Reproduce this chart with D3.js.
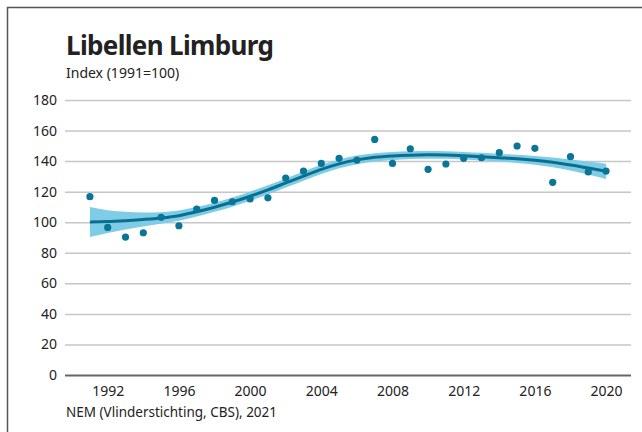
<!DOCTYPE html>
<html>
<head>
<meta charset="utf-8">
<script src="https://cdn.jsdelivr.net/npm/d3@7"></script>
<style>
  body { margin: 0; background: #fff; }
  text { font-family: "Noto Sans", "Open Sans", sans-serif; fill: #222; }
</style>
</head>
<body>
<div id="chart"></div>
<script>
// data
var years = [1991, 1992, 1993, 1994, 1995, 1996, 1997, 1998, 1999, 2000,
             2001, 2002, 2003, 2004, 2005, 2006, 2007, 2008, 2009, 2010,
             2011, 2012, 2013, 2014, 2015, 2016, 2017, 2018, 2019, 2020];
var index = [116.7, 96.6, 90.3, 93.1, 103.2, 97.7, 108.6, 114.3, 113.4, 115.2,
             116.0, 128.9, 133.5, 138.5, 141.8, 140.7, 154.2, 138.5, 148.1, 134.6,
             138.1, 141.8, 142.2, 145.5, 149.9, 148.4, 126.1, 142.9, 132.9, 133.5];
var trend = [100.2, 100.4, 101.0, 101.8, 102.8, 104.3, 106.8, 109.8, 113.2, 117.0,
             121.2, 125.7, 130.2, 134.6, 138.2, 140.8, 142.5, 143.4, 143.9, 144.1,
             144.0, 143.5, 142.9, 142.2, 141.5, 140.5, 139.2, 137.5, 135.5, 133.3];
var halfBand = [9.8, 7.5, 5.8, 4.6, 3.8, 3.4, 3.1, 3.0, 3.0, 3.0,
                3.0, 3.0, 3.0, 3.0, 2.9, 2.8, 2.7, 2.6, 2.5, 2.5,
                2.5, 2.5, 2.5, 2.5, 2.7, 2.9, 3.2, 3.6, 4.2, 5.0];
var yTicks = [0, 20, 40, 60, 80, 100, 120, 140, 160, 180];
var xTicks = [1992, 1996, 2000, 2004, 2008, 2012, 2016, 2020];

var width = 642, height = 432;
var margin = {left: 65, right: 11, top: 100, bottom: 57};

var svg = d3.select("#chart").append("svg")
    .attr("width", width)
    .attr("height", height);

// frame (top and left edge visible)
svg.append("path")
    .attr("d", "M7.5,432V7.5H642")
    .attr("fill", "none")
    .attr("stroke", "#555")
    .attr("stroke-width", 1.5);

var x = d3.scaleLinear()
    .domain([1989.6, 2021.4])
    .range([margin.left, width - margin.right]);

var y = d3.scaleLinear()
    .domain([0, 180])
    .range([height - margin.bottom, margin.top]);

// title and subtitle
svg.append("text")
    .attr("x", 66).attr("y", 55)
    .attr("font-size", 26).attr("font-weight", "bold")
    .attr("fill", "#111")
    .attr("textLength", 208)
    .text("Libellen Limburg");

svg.append("text")
    .attr("x", 66).attr("y", 78)
    .attr("font-size", 14)
    .text("Index (1991=100)");

// gridlines + y labels
var yAxis = svg.append("g")
    .attr("transform", "translate(" + margin.left + ",0)")
    .call(d3.axisLeft(y).tickValues(yTicks)
        .tickSize(-(width - margin.left - margin.right))
        .tickPadding(8));
yAxis.select(".domain").remove();
yAxis.selectAll(".tick line")
    .attr("stroke", function(d) { return d === 0 ? "#666" : "#c6c6c6"; })
    .attr("stroke-width", function(d) { return d === 0 ? 2 : 1.5; });
yAxis.selectAll(".tick text")
    .attr("font-size", 14)
    .attr("font-family", "Noto Sans, sans-serif")
    .attr("fill", "#222");

// x labels
var xAxis = svg.append("g")
    .attr("transform", "translate(0," + (height - margin.bottom) + ")")
    .call(d3.axisBottom(x).tickValues(xTicks).tickFormat(d3.format("d"))
        .tickSize(0).tickPadding(11));
xAxis.select(".domain").remove();
xAxis.selectAll(".tick text")
    .attr("font-size", 14)
    .attr("font-family", "Noto Sans, sans-serif")
    .attr("fill", "#222");

// confidence band
var rows = years.map(function(yr, i) {
    return {year: yr, value: index[i], trend: trend[i], lo: trend[i] - halfBand[i], hi: trend[i] + halfBand[i]};
});

svg.append("path")
    .datum(rows)
    .attr("fill", "#7fcce6")
    .attr("d", d3.area()
        .curve(d3.curveMonotoneX)
        .x(function(d) { return x(d.year); })
        .y0(function(d) { return y(d.lo); })
        .y1(function(d) { return y(d.hi); }));

// trend line
svg.append("path")
    .datum(rows)
    .attr("fill", "none")
    .attr("stroke", "#0a6f8e")
    .attr("stroke-width", 3)
    .attr("d", d3.line()
        .curve(d3.curveMonotoneX)
        .x(function(d) { return x(d.year); })
        .y(function(d) { return y(d.trend); }));

// yearly index points
svg.append("g")
    .selectAll("circle")
    .data(rows)
    .enter()
    .append("circle")
    .attr("cx", function(d) { return x(d.year); })
    .attr("cy", function(d) { return y(d.value); })
    .attr("r", 3.6)
    .attr("fill", "#0a7596");

// source
svg.append("text")
    .attr("x", 66).attr("y", 417)
    .attr("font-size", 13.5)
    .text("NEM (Vlinderstichting, CBS), 2021");
</script>
</body>
</html>
